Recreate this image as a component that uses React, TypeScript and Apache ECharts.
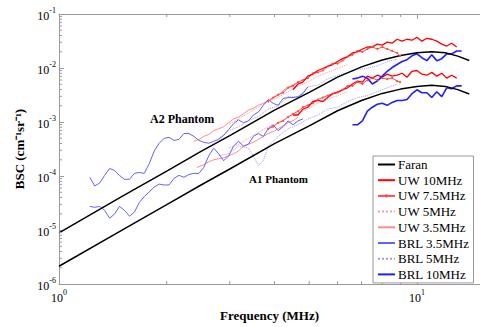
import React, { useEffect, useRef } from "react";
import * as echarts from "echarts";

const FONT = "Liberation Serif";

// Axis ranges
const xMin = 1;
const xMax = 15;
const yMin = 1e-6;
const yMax = 1e-1;
const xMinorTicks = [2, 3, 4, 5, 6, 7, 8, 9];
const yMinorMantissas = [2, 3, 4, 5, 6, 7, 8, 9];
const yDecades = [1e-6, 1e-5, 1e-4, 1e-3, 1e-2];

// Faran theory curves
const faranFreq = [1, 1.5, 2, 2.5, 3, 4, 5, 6, 7, 8, 9, 10, 11, 12, 13, 14];
const faranA2 = [8.9e-6, 4.2e-5, 1.23e-4, 2.9e-4, 5.6e-4, 1.66e-3, 3.55e-3, 6.8e-3, 1.05e-2, 1.41e-2, 1.7e-2, 1.91e-2, 2.0e-2, 1.91e-2, 1.66e-2, 1.38e-2];
const faranA1 = [2.14e-6, 1.0e-5, 2.95e-5, 6.9e-5, 1.35e-4, 3.98e-4, 8.5e-4, 1.62e-3, 2.51e-3, 3.39e-3, 4.07e-3, 4.57e-3, 4.79e-3, 4.57e-3, 3.98e-3, 3.31e-3];

// BRL 3.5 MHz
const brl35Freq = [1.219, 1.258, 1.299, 1.341, 1.384, 1.429, 1.475, 1.523, 1.573, 1.624, 1.676, 1.73, 1.787, 1.845, 1.905, 1.966, 2.03, 2.096, 2.164, 2.234, 2.307, 2.381, 2.459, 2.537, 2.62, 2.705, 2.793, 2.884, 2.977, 3.073, 3.172, 3.275, 3.381, 3.491, 3.604, 3.721, 3.841, 3.965, 4.094, 4.227, 4.363, 4.505, 4.652, 4.801, 4.956];
const brl35A2 = [9.5e-5, 6.56e-5, 7.42e-5, 1.03e-4, 1.38e-4, 1.27e-4, 1.03e-4, 8.7e-5, 8.7e-5, 1.12e-4, 1.17e-4, 1.12e-4, 1.7e-4, 2.91e-4, 4.05e-4, 4.99e-4, 5.2e-4, 4.58e-4, 4.78e-4, 6.13e-4, 6.13e-4, 5.42e-4, 4.58e-4, 4.22e-4, 4.05e-4, 4.4e-4, 4.78e-4, 5.64e-4, 7.24e-4, 9.3e-4, 1.1e-3, 9.7e-4, 1.05e-3, 1.35e-3, 1.53e-3, 2.04e-3, 2.61e-3, 2.22e-3, 2.04e-3, 2.73e-3, 2.84e-3, 2.84e-3, 2.95e-3, 3.35e-3, 4.47e-3];
const brl35A1 = [2.74e-5, 2.64e-5, 2.74e-5, 2.33e-5, 1.66e-5, 1.97e-5, 2.74e-5, 2.33e-5, 1.81e-5, 2.14e-5, 3.24e-5, 4.16e-5, 5.1e-5, 6.28e-5, 7.1e-5, 6.83e-5, 6.83e-5, 9.1e-5, 1.03e-4, 9.5e-5, 1.07e-4, 1.12e-4, 1.12e-4, 1.44e-4, 2.37e-4, 3.29e-4, 2.58e-4, 1.92e-4, 2.37e-4, 3.58e-4, 4.4e-4, 3.58e-4, 3.89e-4, 5.42e-4, 6.13e-4, 5.42e-4, 7.5e-4, 8.9e-4, 6.93e-4, 8.2e-4, 1.05e-3, 8.9e-4, 1.05e-3, 1.14e-3];

// BRL 5 MHz
const brl5A2Freq = [2.793, 2.977, 3.172, 3.381, 3.604, 3.841, 4.094, 4.363, 4.652, 4.956, 5.284, 5.632, 6.002, 6.399, 6.818, 7.268, 7.748, 8.258, 8.8];
const brl5A2 = [4.99e-4, 6.9e-4, 8.2e-4, 1.05e-3, 1.25e-3, 1.75e-3, 2.0e-3, 2.95e-3, 2.9e-3, 4.5e-3, 4.8e-3, 6.3e-3, 7.3e-3, 8.2e-3, 9.4e-3, 9.9e-3, 1.1e-2, 1.32e-2, 1.45e-2];
const brl5A1Freq = [2.793, 2.977, 3.172, 3.381, 3.491, 3.604, 3.721, 3.841, 4.094, 4.363, 4.652, 4.956, 5.284, 5.632, 6.002, 6.399, 6.818, 7.268, 7.748, 8.258, 8.8];
const brl5A1 = [2.37e-4, 2.58e-4, 3.58e-4, 3.29e-4, 2.37e-4, 1.56e-4, 1.92e-4, 3.58e-4, 5.42e-4, 7.5e-4, 8.9e-4, 1.14e-3, 1.35e-3, 1.73e-3, 1.88e-3, 2.4e-3, 2.84e-3, 3.09e-3, 3.63e-3, 4.3e-3, 5.07e-3];

// BRL 10 MHz
const brl10Freq = [6.604, 6.818, 7.041, 7.268, 7.504, 7.748, 7.998, 8.258, 8.524, 8.8, 9.087, 9.38, 9.686, 10.0, 10.32, 10.66, 11.0, 11.36, 11.73, 12.11, 12.5, 12.91, 13.33];
const brl10A2 = [6.24e-3, 6.5e-3, 7.07e-3, 6.5e-3, 5.07e-3, 5.74e-3, 7.07e-3, 8.7e-3, 1.02e-2, 1.16e-2, 1.32e-2, 1.43e-2, 1.68e-2, 1.83e-2, 1.55e-2, 1.37e-2, 1.76e-2, 1.37e-2, 1.49e-2, 1.83e-2, 1.83e-2, 2.07e-2, 2.07e-2];
const brl10A1 = [8.9e-4, 8.9e-4, 1.05e-3, 1.59e-3, 1.88e-3, 2.13e-3, 2.22e-3, 2.04e-3, 2.31e-3, 2.51e-3, 2.51e-3, 2.61e-3, 3.35e-3, 3.96e-3, 3.49e-3, 3.49e-3, 2.84e-3, 3.63e-3, 2.95e-3, 4.3e-3, 4.13e-3, 4.67e-3, 4.67e-3];

// UW 10 MHz
const uw10Freq = [4.505, 4.652, 4.801, 4.956, 5.118, 5.284, 5.455, 5.632, 5.814, 6.002, 6.197, 6.399, 6.604, 6.818, 7.041, 7.268, 7.504, 7.748, 7.998, 8.258, 8.524, 8.8, 9.087, 9.38, 9.686, 10.0, 10.32, 10.66, 11.0, 11.36, 11.73, 12.11, 12.5, 12.91];
const uw10A2 = [3.96e-3, 5.07e-3, 5.49e-3, 7.07e-3, 7.7e-3, 9.0e-3, 9.8e-3, 1.07e-2, 1.16e-2, 1.32e-2, 1.49e-2, 1.62e-2, 1.9e-2, 1.99e-2, 2.25e-2, 2.45e-2, 2.45e-2, 2.77e-2, 2.66e-2, 3.01e-2, 2.88e-2, 3.41e-2, 3.14e-2, 3.41e-2, 3.27e-2, 3.71e-2, 3.14e-2, 3.55e-2, 3.41e-2, 3.14e-2, 2.77e-2, 2.55e-2, 2.88e-2, 2.45e-2];
const uw10A1 = [1.35e-3, 1.35e-3, 1.73e-3, 1.88e-3, 2.4e-3, 2.51e-3, 2.4e-3, 2.84e-3, 3.35e-3, 3.49e-3, 3.96e-3, 4.3e-3, 5.07e-3, 5.74e-3, 5.49e-3, 7.07e-3, 6.5e-3, 7.36e-3, 6.76e-3, 7.7e-3, 7.07e-3, 7.36e-3, 8.0e-3, 6.76e-3, 8.7e-3, 9.0e-3, 7.7e-3, 7.36e-3, 8.3e-3, 7.07e-3, 8.0e-3, 6.5e-3, 7.36e-3, 6.5e-3];

// UW 7.5 MHz
const uw75Freq = [3.841, 3.965, 4.094, 4.227, 4.363, 4.505, 4.652, 4.801, 4.956, 5.118, 5.284, 5.455, 5.632, 5.814, 6.002, 6.197, 6.399, 6.604, 6.818, 7.041, 7.268, 7.504, 7.748, 7.998, 8.258, 8.524, 8.8, 8.97];
const uw75A2 = [2.4e-3, 2.84e-3, 3.21e-3, 3.49e-3, 4.3e-3, 4.67e-3, 5.49e-3, 5.98e-3, 6.5e-3, 8.0e-3, 8.3e-3, 9.0e-3, 1.07e-2, 1.21e-2, 1.21e-2, 1.37e-2, 1.62e-2, 1.76e-2, 2.07e-2, 1.99e-2, 2.25e-2, 2.45e-2, 2.25e-2, 2.45e-2, 2.25e-2, 2.07e-2, 1.9e-2, 1.68e-2];
const uw75A1 = [7.5e-4, 8.2e-4, 9.7e-4, 1.05e-3, 1.24e-3, 1.41e-3, 1.59e-3, 1.88e-3, 2.04e-3, 2.22e-3, 2.61e-3, 2.84e-3, 3.09e-3, 3.35e-3, 3.63e-3, 3.96e-3, 4.67e-3, 4.67e-3, 5.49e-3, 5.07e-3, 5.98e-3, 6.5e-3, 5.98e-3, 6.5e-3, 6.24e-3, 6.5e-3, 5.74e-3, 5.49e-3];

// UW 5 MHz
const uw5Freq = [2.977, 3.172, 3.381, 3.604, 3.841, 4.094, 4.363, 4.652, 4.956, 5.284, 5.632, 6.002, 6.399];
const uw5A2 = [8.9e-4, 1.14e-3, 1.47e-3, 1.88e-3, 2.4e-3, 2.84e-3, 3.63e-3, 4.67e-3, 5.49e-3, 7.07e-3, 8.3e-3, 9.8e-3, 1.16e-2];
const uw5A1 = [3.29e-4, 3.89e-4, 5.0e-4, 6.4e-4, 8.2e-4, 9.7e-4, 1.24e-3, 1.47e-3, 1.73e-3, 2.22e-3, 2.61e-3, 3.09e-3, 3.63e-3];

// UW 3.5 MHz
const uw35A2Freq = [2.381, 2.459, 2.537, 2.62, 2.705, 2.793, 2.884, 2.977, 3.073, 3.172, 3.275, 3.381, 3.491, 3.604, 3.721, 3.841, 3.965, 4.094, 4.227, 4.363, 4.505, 4.652];
const uw35A2 = [4.4e-4, 4.78e-4, 5.42e-4, 5.9e-4, 6.93e-4, 7.5e-4, 8.2e-4, 9.7e-4, 1.14e-3, 1.24e-3, 1.41e-3, 1.66e-3, 1.8e-3, 2.04e-3, 2.22e-3, 2.51e-3, 2.84e-3, 3.09e-3, 3.79e-3, 4.47e-3, 4.86e-3, 5.49e-3];
const uw35A1Freq = [2.427, 2.537, 2.62, 2.705, 2.793, 2.884, 2.977, 3.073, 3.172, 3.275, 3.381, 3.491, 3.604, 3.721, 3.841, 3.965, 4.094, 4.227, 4.363, 4.505, 4.652];
const uw35A1 = [1.44e-4, 1.62e-4, 1.84e-4, 2.0e-4, 2.09e-4, 2.18e-4, 2.37e-4, 2.58e-4, 2.91e-4, 3.58e-4, 3.89e-4, 4.22e-4, 4.78e-4, 5.42e-4, 6.13e-4, 6.66e-4, 7.5e-4, 8.5e-4, 9.7e-4, 1.05e-3, 1.24e-3];

const legendNames = ["Faran", "UW 10MHz", "UW 7.5MHz", "UW 5MHz", "UW 3.5MHz", "BRL 3.5MHz", "BRL 5MHz", "BRL 10MHz"];

const AXIS_COLOR = "#9a9a9a";

const zip = (f: number[], v: number[]) => v.map((y, i) => [f[i], y]);

function lineSeries(name: string, data: number[][], color: string, width: number, type: string = "solid", extra: any = {}) {
  return {
    name,
    type: "line",
    data,
    xAxisIndex: 0,
    yAxisIndex: 0,
    symbol: "none",
    lineStyle: { color, width, type },
    itemStyle: { color },
    emphasis: { disabled: true },
    z: 3,
    ...extra,
  };
}

const labelFormatter = (v: number) => {
  const e = Math.log10(v);
  const r = Math.round(e);
  if (Math.abs(e - r) > 1e-6) return "";
  return `{b|10}{s|${r}}`;
};

const labelRich = {
  b: { fontSize: 12, fontFamily: FONT, color: "#000", lineHeight: 16, verticalAlign: "bottom" },
  s: { fontSize: 8, fontFamily: FONT, color: "#000", lineHeight: 10, verticalAlign: "top" },
};

const yMinorValues: number[] = [];
yDecades.forEach((d) => yMinorMantissas.forEach((m) => yMinorValues.push(m * d)));

export default function App() {
  const ref = useRef<HTMLDivElement>(null);
  useEffect(() => {
    if (!ref.current) return;
    const chart = echarts.init(ref.current, undefined, { renderer: "svg" });
    const uw75Extra = { symbol: "circle", symbolSize: 2, showSymbol: true };
    const option: any = {
      animation: false,
      backgroundColor: "#fff",
      textStyle: { fontFamily: FONT },
      grid: { left: 59, top: 14, right: -4, bottom: 35, containLabel: false },
      legend: {
        data: legendNames.map((n) => (n === "UW 7.5MHz" ? { name: n, itemStyle: { opacity: 1 } } : { name: n })),
        orient: "vertical",
        left: 373,
        top: 156,
        padding: [2, 4, 2, 4],
        itemWidth: 17,
        itemHeight: 4,
        itemGap: 2.7,
        backgroundColor: "#fff",
        borderColor: "#999",
        borderWidth: 1,
        borderRadius: 0,
        selectedMode: false,
        itemStyle: { opacity: 0 },
        textStyle: { fontFamily: FONT, fontSize: 13, color: "#000", padding: [0, 0, 0, -2] },
        z: 10,
      },
      xAxis: [
        {
          type: "log",
          logBase: 10,
          min: xMin,
          max: xMax,
          position: "bottom",
          name: "Frequency (MHz)",
          nameLocation: "middle",
          nameGap: 20,
          nameTextStyle: { fontFamily: FONT, fontSize: 13, fontWeight: "bold", color: "#000" },
          axisLine: { show: true, lineStyle: { color: AXIS_COLOR, width: 1 } },
          axisTick: { show: true, inside: true, length: 5, lineStyle: { color: AXIS_COLOR } },
          axisLabel: { formatter: labelFormatter, rich: labelRich, margin: 4, showMaxLabel: false },
          splitLine: { show: false },
        },
        {
          type: "log",
          logBase: 10,
          min: xMin,
          max: xMax,
          position: "top",
          axisLine: { show: true, lineStyle: { color: AXIS_COLOR, width: 1 } },
          axisTick: { show: true, inside: true, length: 5, lineStyle: { color: AXIS_COLOR } },
          axisLabel: { show: false },
          splitLine: { show: false },
        },
      ],
      yAxis: [
        {
          type: "log",
          logBase: 10,
          min: yMin,
          max: yMax,
          position: "left",
          name: "BSC (cm⁻¹sr⁻¹)",
          nameLocation: "middle",
          nameGap: 31,
          nameTextStyle: { fontFamily: FONT, fontSize: 13, fontWeight: "bold", color: "#000" },
          axisLine: { show: true, lineStyle: { color: AXIS_COLOR, width: 1 } },
          axisTick: { show: true, inside: true, length: 5, lineStyle: { color: AXIS_COLOR } },
          axisLabel: { formatter: labelFormatter, rich: labelRich, margin: 3 },
          splitLine: { show: false },
        },
      ],
      graphic: [
        { type: "text", left: 150, top: 113, z: 5, style: { text: "A2 Phantom", fontFamily: FONT, fontSize: 12, fontWeight: "bold", fill: "#000" } },
        { type: "text", left: 249, top: 173, z: 5, style: { text: "A1 Phantom", fontFamily: FONT, fontSize: 11, fontWeight: "bold", fill: "#000" } },
      ],
      series: [
        lineSeries("BRL 5MHz", zip(brl5A2Freq, brl5A2), "#9c9cff", 1, "dotted"),
        lineSeries("BRL 5MHz", zip(brl5A1Freq, brl5A1), "#9c9cff", 1, "dotted"),
        lineSeries("UW 5MHz", zip(uw5Freq, uw5A2), "#ff9c9c", 1, "dotted"),
        lineSeries("UW 5MHz", zip(uw5Freq, uw5A1), "#ff9c9c", 1, "dotted"),
        lineSeries("UW 3.5MHz", zip(uw35A2Freq, uw35A2), "#ff8a8a", 1),
        lineSeries("UW 3.5MHz", zip(uw35A1Freq, uw35A1), "#ff8a8a", 1),
        lineSeries("BRL 3.5MHz", zip(brl35Freq, brl35A2), "#6262ff", 1),
        lineSeries("BRL 3.5MHz", zip(brl35Freq, brl35A1), "#6262ff", 1),
        lineSeries("UW 7.5MHz", zip(uw75Freq, uw75A2), "#ff4a4a", 1, "solid", uw75Extra),
        lineSeries("UW 7.5MHz", zip(uw75Freq, uw75A1), "#ff4a4a", 1, "solid", uw75Extra),
        lineSeries("UW 10MHz", zip(uw10Freq, uw10A2), "#ff0000", 1.3),
        lineSeries("UW 10MHz", zip(uw10Freq, uw10A1), "#ff0000", 1.3),
        lineSeries("BRL 10MHz", zip(brl10Freq, brl10A2), "#1f1fff", 1.6),
        lineSeries("BRL 10MHz", zip(brl10Freq, brl10A1), "#1f1fff", 1.6),
        lineSeries("Faran", zip(faranFreq, faranA2), "#000000", 1.5),
        lineSeries("Faran", zip(faranFreq, faranA1), "#000000", 1.5),
        {
          type: "custom",
          name: "xMinor",
          xAxisIndex: 0,
          yAxisIndex: 0,
          silent: true,
          clip: false,
          z: 4,
          data: xMinorTicks.map((v) => [v, yMin]),
          renderItem: (params: any, api: any) => {
            const v = api.value(0);
            const b = api.coord([v, yMin]);
            const t = api.coord([v, yMax]);
            const st = { stroke: AXIS_COLOR, lineWidth: 1 };
            return {
              type: "group",
              children: [
                { type: "line", shape: { x1: b[0], y1: b[1], x2: b[0], y2: b[1] - 3 }, style: st },
                { type: "line", shape: { x1: t[0], y1: t[1], x2: t[0], y2: t[1] + 3 }, style: st },
              ],
            };
          },
        },
        {
          type: "custom",
          name: "yMinor",
          xAxisIndex: 0,
          yAxisIndex: 0,
          silent: true,
          clip: false,
          z: 4,
          data: yMinorValues.map((v) => [xMin, v]),
          renderItem: (params: any, api: any) => {
            const v = api.value(1);
            const p = api.coord([xMin, v]);
            return {
              type: "line",
              shape: { x1: p[0], y1: p[1], x2: p[0] + 3, y2: p[1] },
              style: { stroke: AXIS_COLOR, lineWidth: 1 },
            };
          },
        },
      ],
    };
    chart.setOption(option);
    return () => chart.dispose();
  }, []);
  return <div ref={ref} style={{ position: "absolute", left: 0, top: 0, width: 480, height: 327 }} />;
}
